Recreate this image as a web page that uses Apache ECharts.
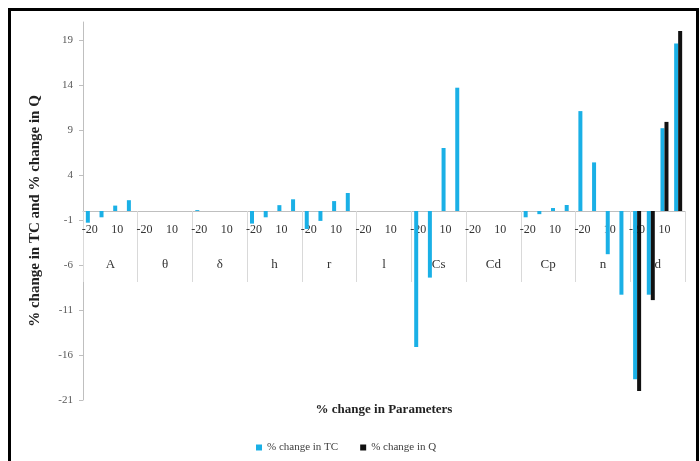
<!DOCTYPE html>
<html>
<head>
<meta charset="utf-8">
<script src="https://cdn.jsdelivr.net/npm/echarts@6/dist/echarts.min.js"></script>
<style>
  html, body { margin: 0; padding: 0; background: #fff; }
  #chart { position: absolute; left: 0; top: 0; width: 700px; height: 461px; }
  .frame { position: absolute; left: 8px; top: 8px; width: 685px; height: 470px; border: 3px solid #000; pointer-events: none; }
</style>
</head>
<body>
<div id="chart"></div>
<div class="frame"></div>
<script>
// parameters and the % change applied to each
const params = ['A', 'θ', 'δ', 'h', 'r', 'l', 'Cs', 'Cd', 'Cp', 'n', 'd']
const steps = ['-20', '-10', '10', '20']

// % change in TC, four values per parameter (-20, -10, 10, 20)
const tcChange = [
  -1.3, -0.7, 0.6, 1.2,     // A
  0, 0, 0, 0,               // θ
  0.1, 0, 0, 0,             // δ
  -1.4, -0.7, 0.65, 1.3,    // h
  -2.0, -1.1, 1.1, 2.0,     // r
  0, 0, 0, 0,               // l
  -15.1, -7.4, 7.0, 13.7,   // Cs
  0, 0, 0, 0,               // Cd
  -0.7, -0.35, 0.33, 0.67,  // Cp
  11.1, 5.4, -4.8, -9.3,    // n
  -18.7, -9.3, 9.2, 18.6,   // d
]

// % change in Q
const qChange = [
  0, 0, 0, 0,
  0, 0, 0, 0,
  0, 0, 0, 0,
  0, 0, 0, 0,
  0, 0, 0, 0,
  0, 0, 0, 0,
  0, 0, 0, 0,
  0, 0, 0, 0,
  0, 0, 0, 0,
  0, 0, 0, 0,
  -20.0, -9.9, 9.9, 20.0,
]

const yTicks = [-21, -16, -11, -6, -1, 4, 9, 14, 19]

const subCats = []
params.forEach(p => steps.forEach(s => subCats.push(p + '|' + s)))

const serif = 'Liberation Serif, Times New Roman, serif'
const yMin = -21
const yMax = 21
const plotTop = 22
const plotBottom = 61
// category axes sit on the zero line: shift them up from the grid bottom
const plotH = 461 - plotTop - plotBottom
const zeroShift = -Math.round(plotH * (0 - yMin) / (yMax - yMin))

const chart = echarts.init(document.getElementById('chart'), null, { renderer: 'canvas' })

chart.setOption({
  animation: false,
  textStyle: { fontFamily: serif },
  grid: { left: 83, right: 15, top: plotTop, bottom: plotBottom, outerBoundsMode: 'none' },
  legend: {
    top: 437,
    left: 251,
    itemWidth: 6,
    itemHeight: 6,
    itemGap: 22,
    icon: 'rect',
    textStyle: { fontFamily: serif, fontSize: 11, color: '#404040' },
    data: ['% change in TC', '% change in Q'],
  },
  xAxis: [
    {
      type: 'category',
      position: 'bottom',
      offset: zeroShift,
      data: subCats,
      axisLine: { onZero: false, lineStyle: { color: '#bfbfbf' } },
      axisTick: { show: false },
      axisLabel: {
        interval: i => i % 2 === 0,
        margin: 13,
        fontFamily: serif,
        fontSize: 12,
        color: '#333',
        formatter: v => v.split('|')[1],
      },
    },
    {
      type: 'category',
      position: 'bottom',
      offset: zeroShift,
      data: params,
      name: '% change in Parameters',
      nameLocation: 'middle',
      nameGap: 192,
      nameTextStyle: { fontFamily: serif, fontSize: 13, fontWeight: 'bold', color: '#222' },
      axisLine: { show: false, onZero: false },
      axisTick: { show: true, length: 71, lineStyle: { color: '#d9d9d9' } },
      axisLabel: { interval: 0, margin: 47, fontFamily: serif, fontSize: 13, color: '#333' },
    },
  ],
  yAxis: {
    type: 'value',
    min: yMin,
    max: yMax,
    name: '% change in TC and % change in Q',
    nameLocation: 'middle',
    nameGap: 40,
    nameTextStyle: { fontFamily: serif, fontSize: 15, fontWeight: 'bold', color: '#222' },
    axisLine: { show: true, lineStyle: { color: '#bfbfbf' } },
    axisTick: { show: true, length: 4, customValues: yTicks, lineStyle: { color: '#bfbfbf' } },
    axisLabel: { customValues: yTicks, fontFamily: serif, fontSize: 11, color: '#595959', margin: 10 },
    splitLine: { show: false },
  },
  series: [
    {
      name: '% change in TC',
      type: 'bar',
      data: tcChange,
      barWidth: 4,
      barGap: '0%',
      itemStyle: { color: '#1ab0e6' },
    },
    {
      name: '% change in Q',
      type: 'bar',
      data: qChange,
      barWidth: 4,
      barGap: '0%',
      itemStyle: { color: '#111' },
    },
  ],
})
</script>
</body>
</html>
